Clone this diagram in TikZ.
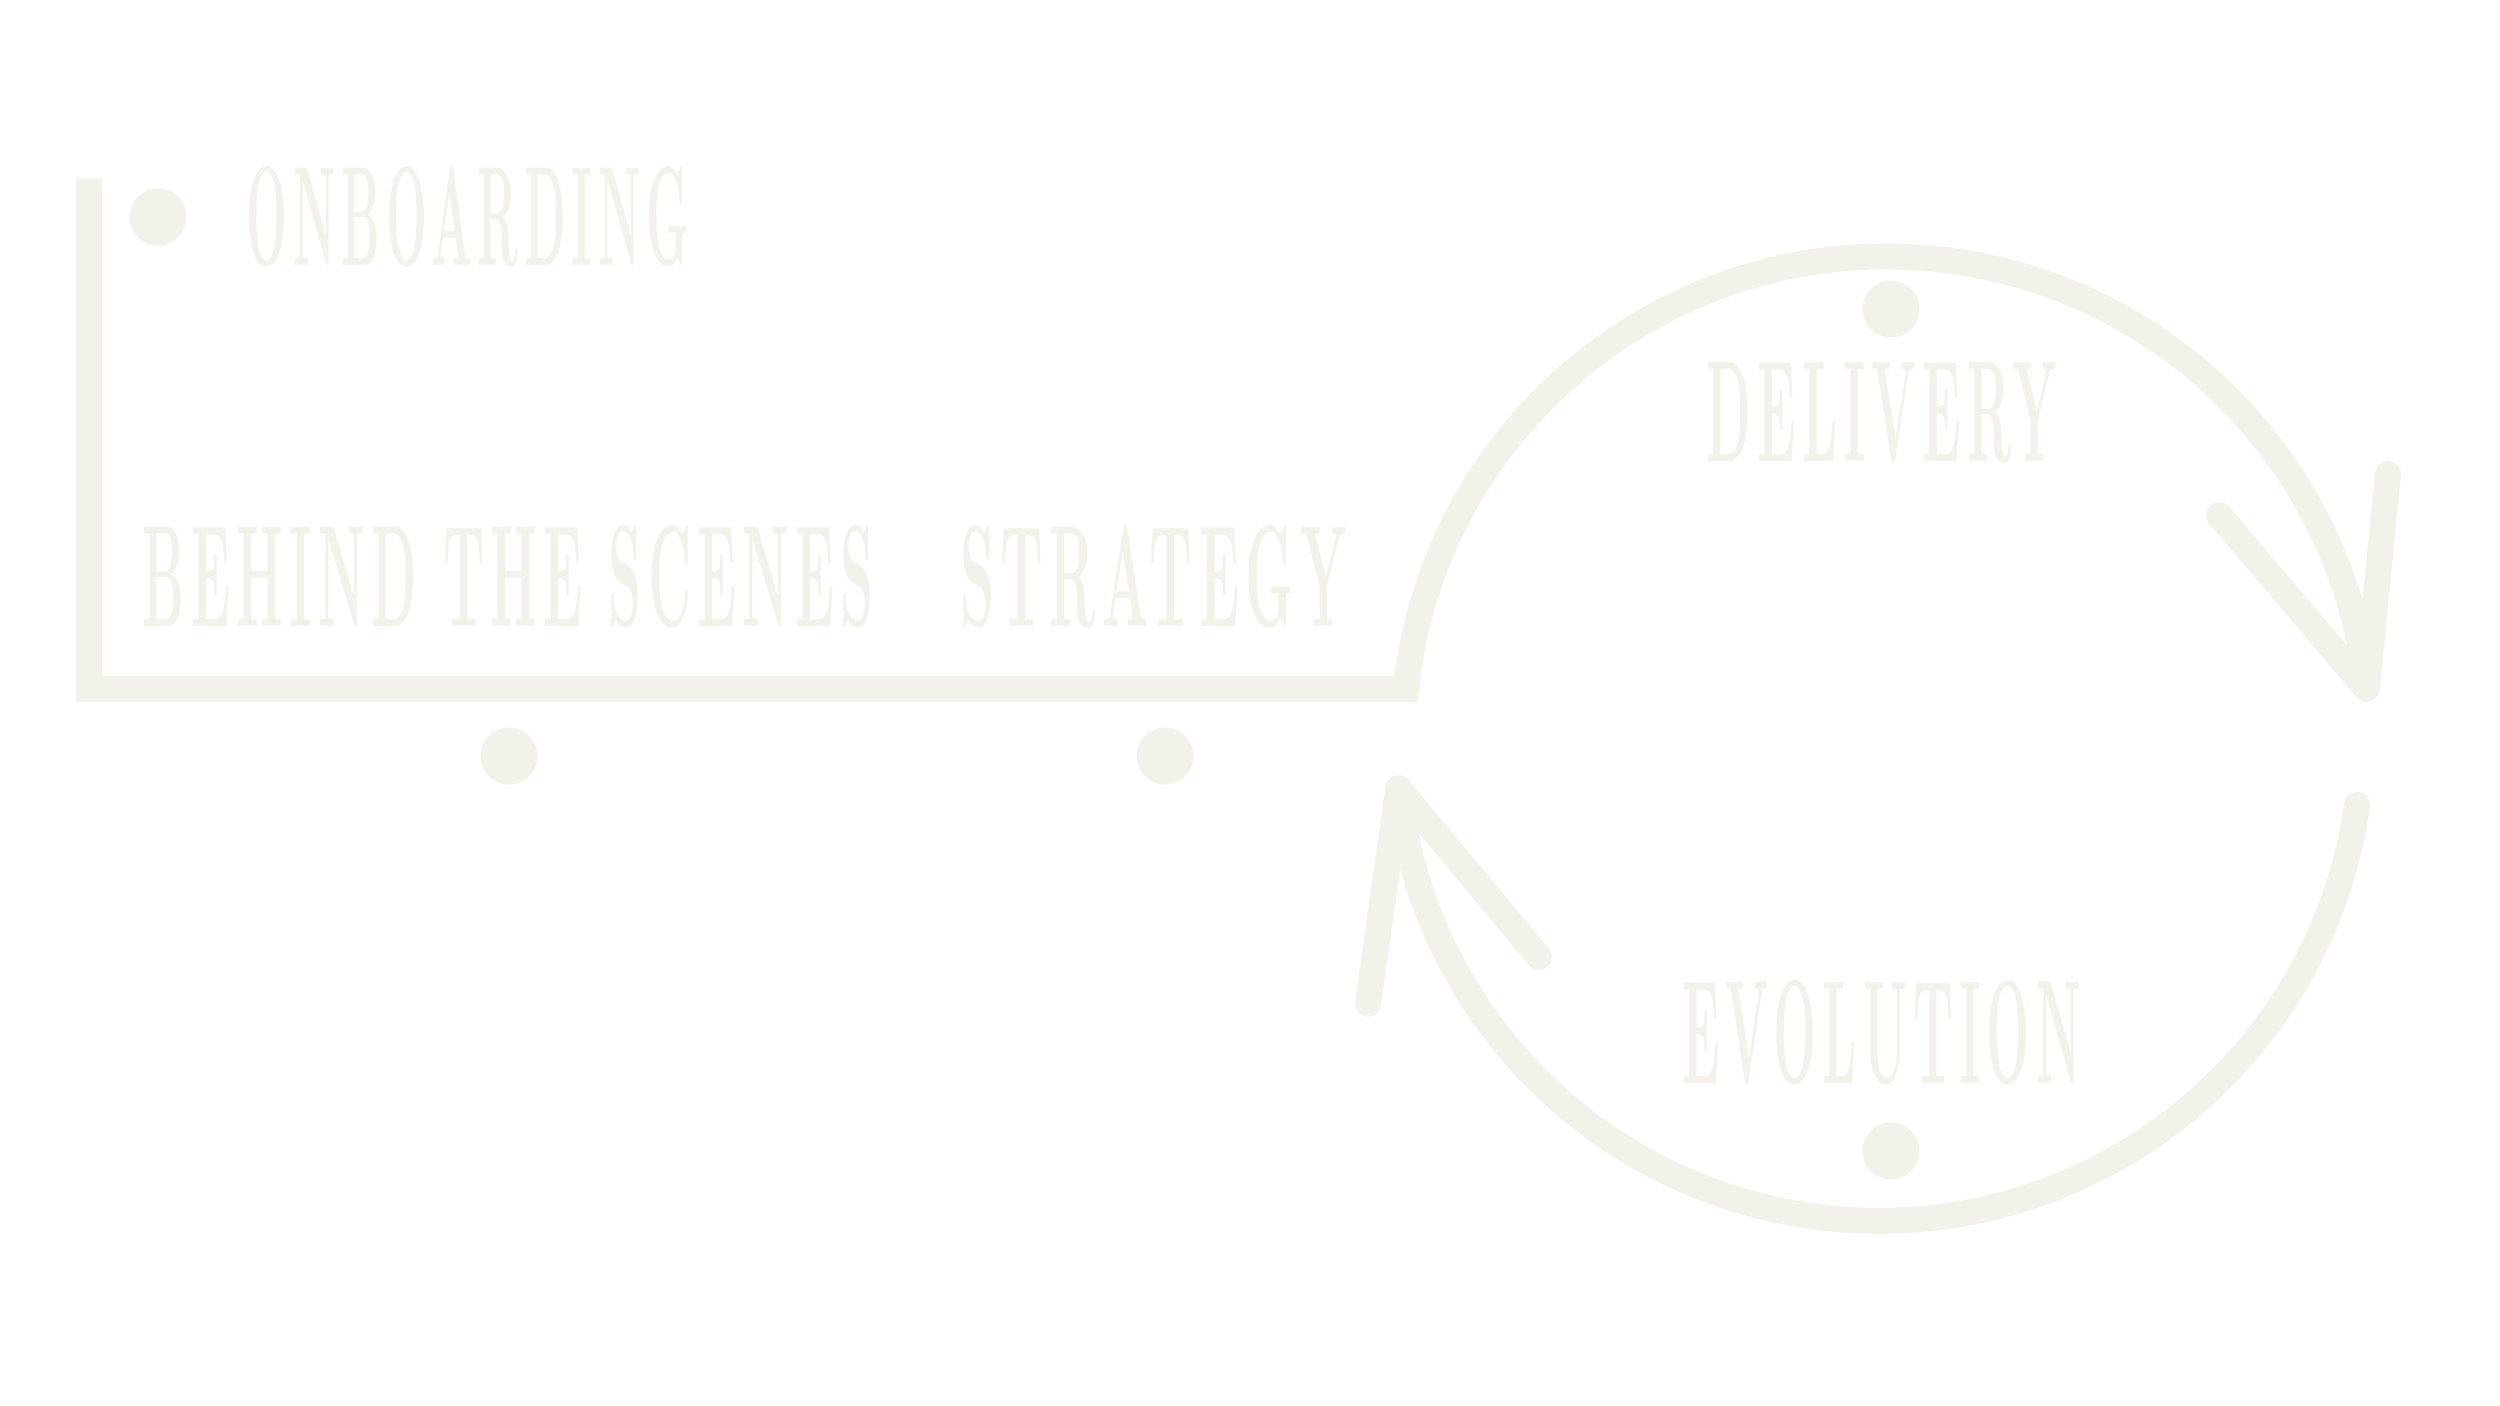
\documentclass[tikz,border=0pt]{standalone}
\usepackage{fontspec}
\usepackage{xcolor}
\usepackage{graphicx}
\usepackage{tikz}
\usetikzlibrary{positioning, calc}
\newfontfamily\stagefont[LetterSpace=12]{Latin Modern Roman}
\definecolor{cream}{RGB}{243,242,234}
\newcommand{\stagename}[3]{\resizebox{#1}{#2}{\stagefont\bfseries #3}}
\tikzset{
  stagetext/.style={
    inner sep=0pt,
    text=cream,
    anchor=center
  },
  stagedot/.style={
    circle,
    minimum size=0.57cm,
    inner sep=0pt,
    fill=cream
  },
  track/.style={
    draw=cream,
    line width=0.26cm
  },
  tip/.style={
    draw=cream,
    line width=0.26cm,
    line cap=round,
    line join=round
  }
}

\begin{document}
\begin{tikzpicture}
\useasboundingbox (0,0) rectangle (25,14.06);
\fill[white] (0,0) rectangle (25,14.06);

% Track
\coordinate (top) at (0.89,12.27);
\coordinate (corner) at (0.89,7.17);
\coordinate (loopin) at (14.06,7.17);
\draw [track, line cap=butt, line join=miter] (top) -- (corner) -- (loopin)
  arc[start angle=174, end angle=6, radius=4.83] coordinate (tipA);
\draw [tip] (23.57,6.01) arc[start angle=-8, end angle=-174, radius=4.83] coordinate (tipB);

% Arrow heads
\draw [tip] (23.88,9.32) -- (tipA) -- (22.19,8.91);
\draw [tip] (13.68,4.02) -- (tipB) -- (15.39,4.49);

% Dots
\node (onbdot) [stagedot] at (1.58,11.89) {};
\node (bhsdot) [stagedot] at (5.09,6.50) {};
\node (strdot) [stagedot] at (11.65,6.50) {};
\node (deldot) [stagedot] at (18.91,10.97) {};
\node (evodot) [stagedot] at (18.91,2.55) {};

% Stages
\node (onboarding) [stagetext] at (4.68,11.895) {\stagename{4.42cm}{0.99cm}{ONBOARDING}};
\node (behind) [stagetext] at (5.085,8.295) {\stagename{7.31cm}{1.01cm}{BEHIND THE SCENES}};
\node (strategy) [stagetext] at (11.535,8.295) {\stagename{3.87cm}{1.01cm}{STRATEGY}};
\node (delivery) [stagetext] at (18.815,9.935) {\stagename{3.51cm}{0.99cm}{DELIVERY}};
\node (evolution) [stagetext] at (18.815,3.735) {\stagename{3.99cm}{1.03cm}{EVOLUTION}};
\end{tikzpicture}
\end{document}
